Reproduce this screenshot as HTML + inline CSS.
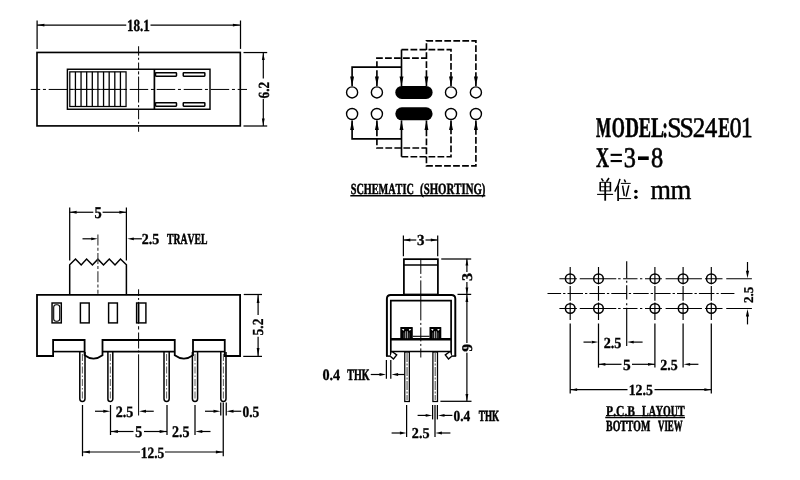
<!DOCTYPE html>
<html><head><meta charset="utf-8"><title>SS24E01 slide switch drawing</title>
<style>
html,body{margin:0;padding:0;background:#fff;}
body{width:800px;height:480px;overflow:hidden;font-family:"Liberation Serif",serif;}
svg{display:block;will-change:transform;}
text{fill:#000;font-family:"Liberation Serif",serif;font-kerning:none;text-rendering:geometricPrecision;white-space:pre;}
</style></head><body>
<svg width="800" height="480" viewBox="0 0 800 480">
<rect x="37.0" y="52.45" width="203.3" height="73.45" rx="0" fill="none" stroke="#000" stroke-width="1.65"/>
<rect x="67.4" y="69.25" width="142.6" height="40.0" rx="0" fill="none" stroke="#000" stroke-width="1.45"/>
<rect x="69.8" y="71.85" width="56.25" height="34.65" rx="0" fill="none" stroke="#000" stroke-width="1.25"/>
<line x1="75.425" y1="71.85" x2="75.425" y2="106.5" stroke="#000" stroke-width="1.3" stroke-linecap="butt"/>
<line x1="81.05" y1="71.85" x2="81.05" y2="106.5" stroke="#000" stroke-width="1.3" stroke-linecap="butt"/>
<line x1="86.675" y1="71.85" x2="86.675" y2="106.5" stroke="#000" stroke-width="1.3" stroke-linecap="butt"/>
<line x1="92.3" y1="71.85" x2="92.3" y2="106.5" stroke="#000" stroke-width="1.3" stroke-linecap="butt"/>
<line x1="97.925" y1="71.85" x2="97.925" y2="106.5" stroke="#000" stroke-width="1.3" stroke-linecap="butt"/>
<line x1="103.55" y1="71.85" x2="103.55" y2="106.5" stroke="#000" stroke-width="1.3" stroke-linecap="butt"/>
<line x1="109.175" y1="71.85" x2="109.175" y2="106.5" stroke="#000" stroke-width="1.3" stroke-linecap="butt"/>
<line x1="114.8" y1="71.85" x2="114.8" y2="106.5" stroke="#000" stroke-width="1.3" stroke-linecap="butt"/>
<line x1="120.425" y1="71.85" x2="120.425" y2="106.5" stroke="#000" stroke-width="1.3" stroke-linecap="butt"/>
<line x1="69.8" y1="89.4" x2="126.05" y2="89.4" stroke="#000" stroke-width="0.9" stroke-linecap="butt"/>
<line x1="154.4" y1="69.25" x2="154.4" y2="109.25" stroke="#000" stroke-width="1.7" stroke-linecap="butt"/>
<rect x="155.5" y="72.65" width="21.0" height="3.5" rx="0.6" fill="none" stroke="#000" stroke-width="1.5"/>
<rect x="155.5" y="102.65" width="21.0" height="3.5" rx="0.6" fill="none" stroke="#000" stroke-width="1.5"/>
<rect x="183.25" y="72.65" width="21.6" height="3.5" rx="0.6" fill="none" stroke="#000" stroke-width="1.5"/>
<rect x="183.25" y="102.65" width="21.6" height="3.5" rx="0.6" fill="none" stroke="#000" stroke-width="1.5"/>
<line x1="30.7" y1="89.45" x2="247" y2="89.45" stroke="#000" stroke-width="1.0" stroke-dasharray="18.5 2.75 3 2.75" stroke-dashoffset="9" stroke-linecap="butt"/>
<line x1="138.6" y1="46.25" x2="138.6" y2="131.75" stroke="#000" stroke-width="1.0" stroke-dasharray="9.4 2.1 2.1 2.7 6.7 2.1 3.1 2.1 26 2.5 2.1 2.7 9.4 2.5 2.1 2.7 5.2" stroke-linecap="butt"/>
<line x1="37.1" y1="20.5" x2="37.1" y2="48.9" stroke="#000" stroke-width="1.25" stroke-linecap="butt"/>
<line x1="240.5" y1="20.5" x2="240.5" y2="48.9" stroke="#000" stroke-width="1.25" stroke-linecap="butt"/>
<line x1="37.0" y1="25.1" x2="126.25" y2="25.1" stroke="#000" stroke-width="1.2" stroke-linecap="butt"/>
<line x1="150.5" y1="25.1" x2="240.3" y2="25.1" stroke="#000" stroke-width="1.2" stroke-linecap="butt"/>
<polygon points="37.4,25.1 44.4,23.700000000000003 44.4,26.5" fill="#000"/>
<polygon points="239.9,25.1 232.9,23.700000000000003 232.9,26.5" fill="#000"/>
<text transform="matrix(0.777 0 0 1 126.949 30.75)" font-size="16.917" font-weight="bold" stroke="#000" stroke-width="0.38" vector-effect="non-scaling-stroke">18.1</text>
<line x1="243.5" y1="52.55" x2="267.2" y2="52.55" stroke="#000" stroke-width="1.25" stroke-linecap="butt"/>
<line x1="243.5" y1="126.0" x2="267.2" y2="126.0" stroke="#000" stroke-width="1.25" stroke-linecap="butt"/>
<line x1="263.3" y1="52.5" x2="263.3" y2="78.5" stroke="#000" stroke-width="1.2" stroke-linecap="butt"/>
<line x1="263.3" y1="99" x2="263.3" y2="126" stroke="#000" stroke-width="1.2" stroke-linecap="butt"/>
<polygon points="263.3,52.9 261.90000000000003,59.9 264.7,59.9" fill="#000"/>
<polygon points="263.3,125.6 261.90000000000003,118.6 264.7,118.6" fill="#000"/>
<text transform="matrix(0 -0.863 1 0 268.8 98.401)" font-family="'Liberation Sans', sans-serif" font-size="15.484" font-weight="bold" stroke="#000" stroke-width="0.3" vector-effect="non-scaling-stroke">6.2</text>
<circle cx="352.1" cy="92.4" r="5.55" fill="none" stroke="#000" stroke-width="1.4"/>
<circle cx="352.1" cy="114" r="5.55" fill="none" stroke="#000" stroke-width="1.4"/>
<circle cx="376.9" cy="92.4" r="5.55" fill="none" stroke="#000" stroke-width="1.4"/>
<circle cx="376.9" cy="114" r="5.55" fill="none" stroke="#000" stroke-width="1.4"/>
<circle cx="451.0" cy="92.4" r="5.55" fill="none" stroke="#000" stroke-width="1.4"/>
<circle cx="451.0" cy="114" r="5.55" fill="none" stroke="#000" stroke-width="1.4"/>
<circle cx="475.9" cy="92.4" r="5.55" fill="none" stroke="#000" stroke-width="1.4"/>
<circle cx="475.9" cy="114" r="5.55" fill="none" stroke="#000" stroke-width="1.4"/>
<rect x="395.3" y="85.9" width="37.3" height="13.1" rx="6.55" fill="#000" stroke="#000" stroke-width="0"/>
<rect x="395.3" y="107.3" width="37.3" height="13.0" rx="6.5" fill="#000" stroke="#000" stroke-width="0"/>
<path d="M352.1,86 V67.15 H401.5" fill="none" stroke="#000" stroke-width="1.65" stroke-linejoin="miter"/>
<line x1="401.5" y1="49.6" x2="401.5" y2="86.6" stroke="#000" stroke-width="1.65" stroke-linecap="butt"/>
<path d="M376.9,86 V58.15 H426.45" fill="none" stroke="#000" stroke-width="1.65" stroke-dasharray="6.75 2.25" stroke-linejoin="miter"/>
<path d="M426.45,86 V40.9 H475.9 V86" fill="none" stroke="#000" stroke-width="1.65" stroke-dasharray="6.75 2.25" stroke-linejoin="miter"/>
<path d="M401.5,49.6 H451.0 V86" fill="none" stroke="#000" stroke-width="1.65" stroke-dasharray="6.75 2.25" stroke-linejoin="miter"/>
<polygon points="352.1,85.9 350.15000000000003,76.4 354.05,76.4" fill="#000"/>
<polygon points="376.9,85.9 374.95,76.4 378.84999999999997,76.4" fill="#000"/>
<polygon points="401.5,85.9 399.55,76.4 403.45,76.4" fill="#000"/>
<polygon points="426.45,85.9 424.5,76.4 428.4,76.4" fill="#000"/>
<polygon points="451.0,85.9 449.05,76.4 452.95,76.4" fill="#000"/>
<polygon points="475.9,85.9 473.95,76.4 477.84999999999997,76.4" fill="#000"/>
<path d="M352.1,120.5 V138.9 H401.5" fill="none" stroke="#000" stroke-width="1.65" stroke-linejoin="miter"/>
<line x1="401.5" y1="120.4" x2="401.5" y2="156.75" stroke="#000" stroke-width="1.65" stroke-linecap="butt"/>
<path d="M376.9,120.5 V148 H426.45" fill="none" stroke="#000" stroke-width="1.65" stroke-dasharray="6.75 2.25" stroke-linejoin="miter"/>
<path d="M426.45,120.5 V165.85 H475.9 V120.5" fill="none" stroke="#000" stroke-width="1.65" stroke-dasharray="6.75 2.25" stroke-linejoin="miter"/>
<path d="M401.5,156.75 H451.0 V120.5" fill="none" stroke="#000" stroke-width="1.65" stroke-dasharray="6.75 2.25" stroke-linejoin="miter"/>
<polygon points="352.1,120.6 350.15000000000003,130.1 354.05,130.1" fill="#000"/>
<polygon points="376.9,120.6 374.95,130.1 378.84999999999997,130.1" fill="#000"/>
<polygon points="401.5,120.6 399.55,130.1 403.45,130.1" fill="#000"/>
<polygon points="426.45,120.6 424.5,130.1 428.4,130.1" fill="#000"/>
<polygon points="451.0,120.6 449.05,130.1 452.95,130.1" fill="#000"/>
<polygon points="475.9,120.6 473.95,130.1 477.84999999999997,130.1" fill="#000"/>
<text transform="matrix(0.665 0 0 1 350.712 193.6)" font-size="15.396" font-weight="bold" stroke="#000" stroke-width="0.525" vector-effect="non-scaling-stroke">SCHEMATIC</text>
<text transform="matrix(0.696 0 0 1 420.114 193.6)" font-size="15.5" font-weight="bold" stroke="#000" stroke-width="0.485" vector-effect="non-scaling-stroke">(SHORTING)</text>
<line x1="350.3" y1="195.7" x2="485.3" y2="195.7" stroke="#000" stroke-width="1.5" stroke-linecap="butt"/>
<text transform="matrix(0.559 0 0 1 595.97 137.0)" font-size="28.6" font-weight="bold" stroke="#000" stroke-width="0.613" vector-effect="non-scaling-stroke">M</text>
<text transform="matrix(0.591 0 0 1 611.654 137.0)" font-size="28.6" font-weight="bold" stroke="#000" stroke-width="0.571" vector-effect="non-scaling-stroke">O</text>
<text transform="matrix(0.667 0 0 1 625.266 137.0)" font-size="28.6" font-weight="bold" stroke="#000" stroke-width="0.473" vector-effect="non-scaling-stroke">D</text>
<text transform="matrix(0.644 0 0 1 638.678 137.0)" font-size="28.6" font-weight="bold" stroke="#000" stroke-width="0.503" vector-effect="non-scaling-stroke">E</text>
<text transform="matrix(0.682 0 0 1 650.909 137.0)" font-size="28.6" font-weight="bold" stroke="#000" stroke-width="0.453" vector-effect="non-scaling-stroke">L</text>
<text transform="matrix(0.546 0 0 1 662.611 137.0)" font-size="28.6" font-weight="bold" stroke="#000" stroke-width="0.63" vector-effect="non-scaling-stroke">:</text>
<text transform="matrix(0.906 0 0 1 667.263 137.0)" font-size="28.4" font-weight="normal" stroke="#000" stroke-width="0.6" vector-effect="non-scaling-stroke">S</text>
<text transform="matrix(0.906 0 0 1 679.513 137.0)" font-size="28.4" font-weight="normal" stroke="#000" stroke-width="0.6" vector-effect="non-scaling-stroke">S</text>
<text transform="matrix(0.88 0 0 1 692.625 137.0)" font-size="28.4" font-weight="normal" stroke="#000" stroke-width="0.6" vector-effect="non-scaling-stroke">2</text>
<text transform="matrix(0.882 0 0 1 704.749 137.0)" font-size="28.4" font-weight="normal" stroke="#000" stroke-width="0.6" vector-effect="non-scaling-stroke">4</text>
<text transform="matrix(0.614 0 0 1 718.192 137.0)" font-size="28.6" font-weight="bold" stroke="#000" stroke-width="0.541" vector-effect="non-scaling-stroke">E</text>
<text transform="matrix(0.829 0 0 1 729.718 137.0)" font-size="28.4" font-weight="normal" stroke="#000" stroke-width="0.735" vector-effect="non-scaling-stroke">0</text>
<text transform="matrix(0.814 0 0 1 741.077 137.0)" font-size="28.4" font-weight="normal" stroke="#000" stroke-width="0.773" vector-effect="non-scaling-stroke">1</text>
<text transform="matrix(0.631 0 0 1 595.934 167.0)" font-size="28.6" font-weight="bold" stroke="#000" stroke-width="0.52" vector-effect="non-scaling-stroke">X</text>
<text transform="matrix(0.854 0 0 1 623.848 167.0)" font-size="28.4" font-weight="normal" stroke="#000" stroke-width="0.67" vector-effect="non-scaling-stroke">3</text>
<text transform="matrix(0.857 0 0 1 650.987 167.0)" font-size="28.4" font-weight="normal" stroke="#000" stroke-width="0.66" vector-effect="non-scaling-stroke">8</text>
<rect x="610.6" y="153.8" width="11.3" height="2.1" fill="#000"/><rect x="610.6" y="160" width="11.3" height="2.1" fill="#000"/>
<rect x="638" y="156.4" width="10.75" height="3.6" fill="#000"/>
<text transform="matrix(0.939 0 0 1 650.375 198.75)" font-size="27.979" font-weight="normal" stroke="#000" stroke-width="0.45" vector-effect="non-scaling-stroke">m</text>
<text transform="matrix(0.958 0 0 1 670.564 198.75)" font-size="27.979" font-weight="normal" stroke="#000" stroke-width="0.45" vector-effect="non-scaling-stroke">m</text>
<g stroke="#000" fill="none" stroke-linecap="butt">
<path stroke-width="1.6" d="M601.4,178.4 L603.3,181.4 M609,178 L606.5,181.7 M600.2,181.9 V191.3 M610.4,181.9 V191.3"/>
<path stroke-width="0.95" d="M600.2,182.3 H610.4 M600.2,186.75 H610.4 M600.2,190.9 H610.4"/>
<path stroke-width="1.1" d="M597.1,194.4 H613.1"/>
<path stroke-width="1.8" d="M605.2,182 V200.7"/>
<path stroke-width="1.5" d="M620,178.8 Q618.6,185 614.8,191.7 M624.3,179.5 L625.6,182.4 M622.6,185.6 L624.3,195.9 M628.8,185.3 L626.1,196.6"/>
<path stroke-width="1.7" d="M618.1,185.4 V201.1"/>
<path stroke-width="1.0" d="M620.9,183.4 H630.7 M619,198.6 H631.1"/>
</g>
<circle cx="635.9" cy="191.6" r="1.75" fill="#000"/><circle cx="635.9" cy="197.3" r="1.75" fill="#000"/>
<path d="M69.7,294.5 V264.7 L75.5,259 L81.2,265 L86.6,259 L92.4,265 L97.9,259.2 L103.5,265 L109.3,259 L115,265 L120.5,259 L126.4,264.7 V294.5" fill="none" stroke="#000" stroke-width="1.5" stroke-linejoin="miter"/>
<line x1="69.7" y1="207.5" x2="69.7" y2="260.5" stroke="#000" stroke-width="1.25" stroke-linecap="butt"/>
<line x1="126.4" y1="207.5" x2="126.4" y2="260.5" stroke="#000" stroke-width="1.25" stroke-linecap="butt"/>
<path d="M37,294.8 H240.1 V356 H224.75 V340 H193 V355.3 Q183.9,362 174.75,355.3 V340 H102.5 V355.3 Q93.5,362 84.6,355.3 V340 H53.1 V356 H37 Z" fill="none" stroke="#000" stroke-width="1.8" stroke-linejoin="miter"/>
<line x1="53.1" y1="351.6" x2="84.6" y2="351.6" stroke="#000" stroke-width="1.6" stroke-linecap="butt"/>
<line x1="102.5" y1="351.6" x2="174.75" y2="351.6" stroke="#000" stroke-width="1.6" stroke-linecap="butt"/>
<line x1="193" y1="351.6" x2="224.75" y2="351.6" stroke="#000" stroke-width="1.6" stroke-linecap="butt"/>
<rect x="52.05" y="303" width="9.25" height="19.9" rx="0" fill="none" stroke="#000" stroke-width="1.45"/>
<rect x="80.4" y="303" width="8.8" height="19.9" rx="0" fill="none" stroke="#000" stroke-width="1.45"/>
<rect x="108.6" y="303" width="8.8" height="19.9" rx="0" fill="none" stroke="#000" stroke-width="1.45"/>
<rect x="136.6" y="303" width="9.3" height="19.9" rx="0" fill="none" stroke="#000" stroke-width="1.45"/>
<rect x="53.7" y="304.8" width="6.0" height="16.4" rx="2.4" fill="none" stroke="#000" stroke-width="1.1"/>
<line x1="138.6" y1="303.5" x2="138.6" y2="322.5" stroke="#000" stroke-width="1.6" stroke-linecap="butt"/>
<path d="M79.8,352 V398.8 A2.6,2.6 0 0 0 85.0,398.8 V352" fill="none" stroke="#000" stroke-width="1.5" stroke-linejoin="miter"/>
<line x1="82.4" y1="354" x2="82.4" y2="399" stroke="#333" stroke-width="0.8" stroke-dasharray="7 2 1.5 2" stroke-linecap="butt"/>
<path d="M107.9,352 V398.95 A2.45,2.45 0 0 0 112.8,398.95 V352" fill="none" stroke="#000" stroke-width="1.5" stroke-linejoin="miter"/>
<line x1="110.35" y1="354" x2="110.35" y2="399" stroke="#333" stroke-width="0.8" stroke-dasharray="7 2 1.5 2" stroke-linecap="butt"/>
<path d="M164.0,352 V398.8 A2.6,2.6 0 0 0 169.2,398.8 V352" fill="none" stroke="#000" stroke-width="1.5" stroke-linejoin="miter"/>
<line x1="166.6" y1="354" x2="166.6" y2="399" stroke="#333" stroke-width="0.8" stroke-dasharray="7 2 1.5 2" stroke-linecap="butt"/>
<path d="M192.4,352 V398.8 A2.6,2.6 0 0 0 197.6,398.8 V352" fill="none" stroke="#000" stroke-width="1.5" stroke-linejoin="miter"/>
<line x1="195.0" y1="354" x2="195.0" y2="399" stroke="#333" stroke-width="0.8" stroke-dasharray="7 2 1.5 2" stroke-linecap="butt"/>
<path d="M220.8,352 V398.8 A2.6,2.6 0 0 0 226.0,398.8 V352" fill="none" stroke="#000" stroke-width="1.5" stroke-linejoin="miter"/>
<line x1="223.4" y1="354" x2="223.4" y2="399" stroke="#333" stroke-width="0.8" stroke-dasharray="7 2 1.5 2" stroke-linecap="butt"/>
<line x1="138.6" y1="289.3" x2="138.6" y2="415.5" stroke="#000" stroke-width="1.0" stroke-dasharray="6.7 2 1.9 2 21.8 2.5 3.3 3 16 2 1.8 2 61.2" stroke-linecap="butt"/>
<line x1="97.9" y1="234.5" x2="97.9" y2="293.75" stroke="#444" stroke-width="1.2" stroke-dasharray="11 2.2 3 2.2" stroke-linecap="butt"/>
<line x1="69.5" y1="212.25" x2="93.3" y2="212.25" stroke="#000" stroke-width="1.2" stroke-linecap="butt"/>
<line x1="102.6" y1="212.25" x2="126.25" y2="212.25" stroke="#000" stroke-width="1.2" stroke-linecap="butt"/>
<polygon points="70.1,212.25 76.6,210.85 76.6,213.65" fill="#000"/>
<polygon points="125.9,212.25 119.4,210.85 119.4,213.65" fill="#000"/>
<text transform="matrix(0.876 0 0 1 94.422 217.6)" font-size="16.489" font-weight="bold" stroke="#000" stroke-width="0.35" vector-effect="non-scaling-stroke">5</text>
<line x1="82.5" y1="238.8" x2="92" y2="238.8" stroke="#000" stroke-width="1.2" stroke-linecap="butt"/>
<polygon points="97.75,238.8 91.25,237.4 91.25,240.20000000000002" fill="#000"/>
<polygon points="127.3,238.8 133.8,237.4 133.8,240.20000000000002" fill="#000"/>
<line x1="133" y1="238.8" x2="141.9" y2="238.8" stroke="#000" stroke-width="1.2" stroke-linecap="butt"/>
<text transform="matrix(0.917 0 0 1 141.806 243.9)" font-size="15.245" font-weight="bold" stroke="#000" stroke-width="0.35" vector-effect="non-scaling-stroke">2.5</text>
<text transform="matrix(0.634 0 0 1 167.054 243.9)" font-size="15.303" font-weight="bold" stroke="#000" stroke-width="0.565" vector-effect="non-scaling-stroke">TRAVEL</text>
<line x1="243.75" y1="294.5" x2="262" y2="294.5" stroke="#000" stroke-width="1.25" stroke-linecap="butt"/>
<line x1="243.25" y1="356.4" x2="262" y2="356.4" stroke="#000" stroke-width="1.25" stroke-linecap="butt"/>
<line x1="258.1" y1="294.5" x2="258.1" y2="315" stroke="#000" stroke-width="1.2" stroke-linecap="butt"/>
<line x1="258.1" y1="336.8" x2="258.1" y2="356.4" stroke="#000" stroke-width="1.2" stroke-linecap="butt"/>
<polygon points="258.1,294.9 256.70000000000005,302.9 259.5,302.9" fill="#000"/>
<polygon points="258.1,356 256.70000000000005,348 259.5,348" fill="#000"/>
<text transform="matrix(0 -0.891 1 0 263.3 335.61)" font-family="'Liberation Sans', sans-serif" font-size="15.341" font-weight="bold" stroke="#000" stroke-width="0.3" vector-effect="non-scaling-stroke">5.2</text>
<line x1="82.5" y1="405" x2="82.5" y2="456.25" stroke="#000" stroke-width="1.25" stroke-linecap="butt"/>
<line x1="110.5" y1="405" x2="110.5" y2="435" stroke="#000" stroke-width="1.25" stroke-linecap="butt"/>
<line x1="167" y1="405" x2="167" y2="435" stroke="#000" stroke-width="1.25" stroke-linecap="butt"/>
<line x1="195" y1="405" x2="195" y2="435" stroke="#000" stroke-width="1.25" stroke-linecap="butt"/>
<line x1="223.25" y1="402.5" x2="223.25" y2="456.25" stroke="#000" stroke-width="1.25" stroke-linecap="butt"/>
<line x1="220.75" y1="402.5" x2="220.75" y2="415.5" stroke="#000" stroke-width="1.25" stroke-linecap="butt"/>
<line x1="226.25" y1="402.5" x2="226.25" y2="415.5" stroke="#000" stroke-width="1.25" stroke-linecap="butt"/>
<line x1="95" y1="411.25" x2="104" y2="411.25" stroke="#000" stroke-width="1.2" stroke-linecap="butt"/>
<polygon points="110.3,411.25 103.3,409.85 103.3,412.65" fill="#000"/>
<polygon points="139,411.25 146.0,409.85 146.0,412.65" fill="#000"/>
<line x1="145" y1="411.25" x2="153.75" y2="411.25" stroke="#000" stroke-width="1.2" stroke-linecap="butt"/>
<text transform="matrix(0.89 0 0 1 115.701 416.5)" font-size="15.849" font-weight="bold" stroke="#000" stroke-width="0.35" vector-effect="non-scaling-stroke">2.5</text>
<line x1="110.5" y1="431.5" x2="133.5" y2="431.5" stroke="#000" stroke-width="1.2" stroke-linecap="butt"/>
<line x1="144" y1="431.5" x2="167" y2="431.5" stroke="#000" stroke-width="1.2" stroke-linecap="butt"/>
<polygon points="110.9,431.5 117.9,430.1 117.9,432.9" fill="#000"/>
<polygon points="166.6,431.5 159.6,430.1 159.6,432.9" fill="#000"/>
<text transform="matrix(0.851 0 0 1 135.241 437.0)" font-size="16.412" font-weight="bold" stroke="#000" stroke-width="0.35" vector-effect="non-scaling-stroke">5</text>
<text transform="matrix(0.864 0 0 1 172.004 437.0)" font-size="16.226" font-weight="bold" stroke="#000" stroke-width="0.35" vector-effect="non-scaling-stroke">2.5</text>
<polygon points="195.3,431.5 202.3,430.1 202.3,432.9" fill="#000"/>
<line x1="201" y1="431.5" x2="210.5" y2="431.5" stroke="#000" stroke-width="1.2" stroke-linecap="butt"/>
<line x1="205" y1="411.25" x2="214" y2="411.25" stroke="#000" stroke-width="1.2" stroke-linecap="butt"/>
<polygon points="220.5,411.25 213.5,409.85 213.5,412.65" fill="#000"/>
<polygon points="226.5,411.25 233.5,409.85 233.5,412.65" fill="#000"/>
<line x1="232" y1="411.25" x2="241.25" y2="411.25" stroke="#000" stroke-width="1.2" stroke-linecap="butt"/>
<text transform="matrix(0.852 0 0 1 242.496 416.5)" font-size="15.789" font-weight="bold" stroke="#000" stroke-width="0.35" vector-effect="non-scaling-stroke">0.5</text>
<line x1="82.5" y1="452" x2="140" y2="452" stroke="#000" stroke-width="1.2" stroke-linecap="butt"/>
<line x1="165" y1="452" x2="223.25" y2="452" stroke="#000" stroke-width="1.2" stroke-linecap="butt"/>
<polygon points="82.9,452 89.9,450.6 89.9,453.4" fill="#000"/>
<polygon points="222.85,452 215.85,450.6 215.85,453.4" fill="#000"/>
<text transform="matrix(0.846 0 0 1 140.827 457.5)" font-size="15.849" font-weight="bold" stroke="#000" stroke-width="0.35" vector-effect="non-scaling-stroke">12.5</text>
<rect x="403.9" y="259.15" width="34.0" height="35.35" rx="0" fill="none" stroke="#000" stroke-width="1.75"/>
<line x1="403.9" y1="264.9" x2="437.9" y2="264.9" stroke="#000" stroke-width="1.5" stroke-linecap="butt"/>
<path d="M386.9,356 V298.8 Q386.9,295 390.7,295 H451.5 Q455.3,295 455.3,298.8 V356" fill="none" stroke="#000" stroke-width="1.95" stroke-linejoin="miter"/>
<path d="M390.8,356 V300.7 H451.1 V356" fill="none" stroke="#000" stroke-width="1.7" stroke-linejoin="miter"/>
<line x1="386" y1="356.1" x2="391.6" y2="356.1" stroke="#000" stroke-width="1.5" stroke-linecap="butt"/>
<line x1="450.3" y1="356.1" x2="456.2" y2="356.1" stroke="#000" stroke-width="1.5" stroke-linecap="butt"/>
<path d="M392.4,351.8 L396.7,355 L393.5,359 L390.3,356.2" fill="#fff" stroke="#000" stroke-width="1.4" stroke-linejoin="miter"/>
<path d="M449.6,351.8 L445.3,355 L448.5,359 L451.7,356.2" fill="#fff" stroke="#000" stroke-width="1.4" stroke-linejoin="miter"/>
<line x1="390.8" y1="339.3" x2="451.1" y2="339.3" stroke="#000" stroke-width="2.5" stroke-linecap="butt"/>
<line x1="390.8" y1="351.5" x2="451.1" y2="351.5" stroke="#000" stroke-width="1.5" stroke-linecap="butt"/>
<rect x="400.3" y="327" width="12.5" height="11.6" rx="0.6" fill="#000" stroke="#000" stroke-width="0"/>
<polygon points="401.7,328.9 404.3,328.9 403.5,330.9" fill="#fff"/>
<polygon points="411.4,328.9 408.8,328.9 409.6,330.9" fill="#fff"/>
<line x1="405.65" y1="331.2" x2="405.65" y2="338.2" stroke="#fff" stroke-width="0.65" stroke-linecap="butt"/>
<line x1="407.45" y1="331.2" x2="407.45" y2="338.2" stroke="#fff" stroke-width="0.65" stroke-linecap="butt"/>
<line x1="403.95" y1="332.5" x2="403.95" y2="338.2" stroke="#bbb" stroke-width="0.4" stroke-linecap="butt"/>
<line x1="409.15" y1="332.5" x2="409.15" y2="338.2" stroke="#bbb" stroke-width="0.4" stroke-linecap="butt"/>
<rect x="429.5" y="327" width="11.8" height="11.6" rx="0.6" fill="#000" stroke="#000" stroke-width="0"/>
<polygon points="430.9,328.9 433.5,328.9 432.7,330.9" fill="#fff"/>
<polygon points="439.9,328.9 437.3,328.9 438.1,330.9" fill="#fff"/>
<line x1="434.5" y1="331.2" x2="434.5" y2="338.2" stroke="#fff" stroke-width="0.65" stroke-linecap="butt"/>
<line x1="436.3" y1="331.2" x2="436.3" y2="338.2" stroke="#fff" stroke-width="0.65" stroke-linecap="butt"/>
<line x1="432.8" y1="332.5" x2="432.8" y2="338.2" stroke="#bbb" stroke-width="0.4" stroke-linecap="butt"/>
<line x1="438.0" y1="332.5" x2="438.0" y2="338.2" stroke="#bbb" stroke-width="0.4" stroke-linecap="butt"/>
<line x1="412.8" y1="336.3" x2="429.5" y2="336.3" stroke="#000" stroke-width="1.1" stroke-linecap="butt"/>
<rect x="404.75" y="352" width="4.6" height="49.5" rx="0" fill="none" stroke="#000" stroke-width="1.25"/>
<line x1="407.05" y1="353" x2="407.05" y2="400" stroke="#222" stroke-width="0.85" stroke-dasharray="9 1.5 2 1.5" stroke-linecap="butt"/>
<rect x="432.9" y="352" width="4.6" height="49.5" rx="0" fill="none" stroke="#000" stroke-width="1.25"/>
<line x1="435.2" y1="353" x2="435.2" y2="400" stroke="#222" stroke-width="0.85" stroke-dasharray="9 1.5 2 1.5" stroke-linecap="butt"/>
<line x1="420.8" y1="258.9" x2="420.8" y2="357.5" stroke="#000" stroke-width="1.0" stroke-dasharray="15 2.5 1.5 2.5 40 2.5 2 2.5 14 2.5 2 2.5 30" stroke-linecap="butt"/>
<line x1="403.4" y1="235.5" x2="403.4" y2="256.25" stroke="#000" stroke-width="1.25" stroke-linecap="butt"/>
<line x1="437.7" y1="235.5" x2="437.7" y2="256.25" stroke="#000" stroke-width="1.25" stroke-linecap="butt"/>
<line x1="403.4" y1="240" x2="416.3" y2="240" stroke="#000" stroke-width="1.2" stroke-linecap="butt"/>
<line x1="425.5" y1="240" x2="437.7" y2="240" stroke="#000" stroke-width="1.2" stroke-linecap="butt"/>
<polygon points="403.8,240 410.3,238.6 410.3,241.4" fill="#000"/>
<polygon points="437.3,240 430.8,238.6 430.8,241.4" fill="#000"/>
<text transform="matrix(0.972 0 0 1 416.939 245.2)" font-size="15.396" font-weight="bold" stroke="#000" stroke-width="0.35" vector-effect="non-scaling-stroke">3</text>
<line x1="441.25" y1="259" x2="471.2" y2="259" stroke="#000" stroke-width="1.25" stroke-linecap="butt"/>
<line x1="457.5" y1="294.4" x2="471.2" y2="294.4" stroke="#000" stroke-width="1.25" stroke-linecap="butt"/>
<line x1="440.4" y1="401.3" x2="471.5" y2="401.3" stroke="#000" stroke-width="1.25" stroke-linecap="butt"/>
<line x1="466.9" y1="258.75" x2="466.9" y2="272" stroke="#000" stroke-width="1.2" stroke-linecap="butt"/>
<line x1="466.9" y1="282" x2="466.9" y2="294.5" stroke="#000" stroke-width="1.2" stroke-linecap="butt"/>
<polygon points="466.9,259.1 465.5,265.6 468.29999999999995,265.6" fill="#000"/>
<polygon points="466.9,294.1 465.5,287.6 468.29999999999995,287.6" fill="#000"/>
<text transform="matrix(0 -1.091 1 0 471.7 281.105)" font-size="14.792" font-weight="bold" stroke="#000" stroke-width="0.35" vector-effect="non-scaling-stroke">3</text>
<line x1="466.9" y1="294.5" x2="466.9" y2="343" stroke="#000" stroke-width="1.2" stroke-linecap="butt"/>
<line x1="466.9" y1="352.8" x2="466.9" y2="401.3" stroke="#000" stroke-width="1.2" stroke-linecap="butt"/>
<polygon points="466.9,294.9 465.5,301.9 468.29999999999995,301.9" fill="#000"/>
<polygon points="466.9,400.9 465.5,393.9 468.29999999999995,393.9" fill="#000"/>
<text transform="matrix(0 -1.066 1 0 472.0 351.734)" font-size="14.792" font-weight="bold" stroke="#000" stroke-width="0.35" vector-effect="non-scaling-stroke">9</text>
<text transform="matrix(0.901 0 0 1 322.467 380.0)" font-size="15.789" font-weight="bold" stroke="#000" stroke-width="0.35" vector-effect="non-scaling-stroke">0.4</text>
<text transform="matrix(0.624 0 0 1 347.35 380.0)" font-size="16.031" font-weight="bold" stroke="#000" stroke-width="0.579" vector-effect="non-scaling-stroke">THK</text>
<line x1="370.75" y1="374.5" x2="380" y2="374.5" stroke="#000" stroke-width="1.2" stroke-linecap="butt"/>
<polygon points="386,374.5 379.5,373.1 379.5,375.9" fill="#000"/>
<line x1="386.4" y1="360" x2="386.4" y2="378.75" stroke="#000" stroke-width="1.25" stroke-linecap="butt"/>
<line x1="390.8" y1="360" x2="390.8" y2="378.75" stroke="#000" stroke-width="1.25" stroke-linecap="butt"/>
<polygon points="391.6,374.5 398.1,373.1 398.1,375.9" fill="#000"/>
<line x1="397" y1="374.5" x2="404.5" y2="374.5" stroke="#000" stroke-width="1.2" stroke-linecap="butt"/>
<line x1="432.6" y1="405" x2="432.6" y2="419.4" stroke="#000" stroke-width="1.25" stroke-linecap="butt"/>
<line x1="437.4" y1="405" x2="437.4" y2="419.4" stroke="#000" stroke-width="1.25" stroke-linecap="butt"/>
<line x1="435" y1="405" x2="435" y2="437" stroke="#000" stroke-width="1.25" stroke-linecap="butt"/>
<line x1="417.6" y1="415.4" x2="426" y2="415.4" stroke="#000" stroke-width="1.2" stroke-linecap="butt"/>
<polygon points="432.2,415.4 425.7,414.0 425.7,416.79999999999995" fill="#000"/>
<polygon points="438,415.4 444.5,414.0 444.5,416.79999999999995" fill="#000"/>
<line x1="444" y1="415.4" x2="452.4" y2="415.4" stroke="#000" stroke-width="1.2" stroke-linecap="butt"/>
<text transform="matrix(0.873 0 0 1 453.498 420.6)" font-size="15.338" font-weight="bold" stroke="#000" stroke-width="0.35" vector-effect="non-scaling-stroke">0.4</text>
<text transform="matrix(0.584 0 0 1 478.864 420.6)" font-size="15.573" font-weight="bold" stroke="#000" stroke-width="0.631" vector-effect="non-scaling-stroke">THK</text>
<line x1="406.6" y1="405" x2="406.6" y2="437" stroke="#000" stroke-width="1.25" stroke-linecap="butt"/>
<line x1="391.6" y1="433" x2="400" y2="433" stroke="#000" stroke-width="1.2" stroke-linecap="butt"/>
<polygon points="406.4,433 399.9,431.6 399.9,434.4" fill="#000"/>
<polygon points="435.4,433 441.9,431.6 441.9,434.4" fill="#000"/>
<line x1="441" y1="433" x2="450.4" y2="433" stroke="#000" stroke-width="1.2" stroke-linecap="butt"/>
<text transform="matrix(0.94 0 0 1 411.797 438.0)" font-size="15.094" font-weight="bold" stroke="#000" stroke-width="0.35" vector-effect="non-scaling-stroke">2.5</text>
<circle cx="570.2" cy="278.7" r="4.8" fill="none" stroke="#000" stroke-width="1.5"/>
<circle cx="570.2" cy="308.5" r="4.8" fill="none" stroke="#000" stroke-width="1.5"/>
<line x1="570.2" y1="267" x2="570.2" y2="320.1" stroke="#000" stroke-width="1.15" stroke-dasharray="17.25 1.75 14.75 1.85 17.5" stroke-linecap="butt"/>
<circle cx="598.5" cy="278.7" r="4.8" fill="none" stroke="#000" stroke-width="1.5"/>
<circle cx="598.5" cy="308.5" r="4.8" fill="none" stroke="#000" stroke-width="1.5"/>
<line x1="598.5" y1="267" x2="598.5" y2="320.1" stroke="#000" stroke-width="1.15" stroke-dasharray="17.25 1.75 14.75 1.85 17.5" stroke-linecap="butt"/>
<circle cx="654.9" cy="278.7" r="4.8" fill="none" stroke="#000" stroke-width="1.5"/>
<circle cx="654.9" cy="308.5" r="4.8" fill="none" stroke="#000" stroke-width="1.5"/>
<line x1="654.9" y1="267" x2="654.9" y2="320.1" stroke="#000" stroke-width="1.15" stroke-dasharray="17.25 1.75 14.75 1.85 17.5" stroke-linecap="butt"/>
<circle cx="683.1" cy="278.7" r="4.8" fill="none" stroke="#000" stroke-width="1.5"/>
<circle cx="683.1" cy="308.5" r="4.8" fill="none" stroke="#000" stroke-width="1.5"/>
<line x1="683.1" y1="267" x2="683.1" y2="320.1" stroke="#000" stroke-width="1.15" stroke-dasharray="17.25 1.75 14.75 1.85 17.5" stroke-linecap="butt"/>
<circle cx="711.3" cy="278.7" r="4.8" fill="none" stroke="#000" stroke-width="1.5"/>
<circle cx="711.3" cy="308.5" r="4.8" fill="none" stroke="#000" stroke-width="1.5"/>
<line x1="711.3" y1="267" x2="711.3" y2="320.1" stroke="#000" stroke-width="1.15" stroke-dasharray="17.25 1.75 14.75 1.85 17.5" stroke-linecap="butt"/>
<line x1="559.4" y1="278.7" x2="751.9" y2="278.7" stroke="#000" stroke-width="1.15" stroke-dasharray="17.5 2.85 36.5 1.85 2.5 2.5 14.4 2.5 2.3 2.7 16.9 3.7 36.3 3.1 17.5 3.75 25.65" stroke-linecap="butt"/>
<line x1="559.4" y1="308.5" x2="751.9" y2="308.5" stroke="#000" stroke-width="1.15" stroke-dasharray="17.5 2.85 36.5 1.85 2.5 2.5 14.4 2.5 2.3 2.7 16.9 3.7 36.3 3.1 17.5 3.75 25.65" stroke-linecap="butt"/>
<line x1="547.5" y1="293.45" x2="734.4" y2="293.45" stroke="#000" stroke-width="1.15" stroke-dasharray="15.5 2 2.3 2.1" stroke-dashoffset="1.9" stroke-linecap="butt"/>
<line x1="626.7" y1="261.3" x2="626.7" y2="346" stroke="#000" stroke-width="1.15" stroke-dasharray="17 2.5 1.9 2.5 14.4 3.75 1.9 2.5 38.4" stroke-linecap="butt"/>
<line x1="570.2" y1="323.5" x2="570.2" y2="393.5" stroke="#000" stroke-width="1.25" stroke-linecap="butt"/>
<line x1="711.3" y1="323.5" x2="711.3" y2="393.5" stroke="#000" stroke-width="1.25" stroke-linecap="butt"/>
<line x1="598.5" y1="323.5" x2="598.5" y2="367.6" stroke="#000" stroke-width="1.25" stroke-linecap="butt"/>
<line x1="654.9" y1="323.5" x2="654.9" y2="367.6" stroke="#000" stroke-width="1.25" stroke-linecap="butt"/>
<line x1="683.1" y1="323.5" x2="683.1" y2="367.6" stroke="#000" stroke-width="1.25" stroke-linecap="butt"/>
<line x1="747.5" y1="262" x2="747.5" y2="272" stroke="#000" stroke-width="1.2" stroke-linecap="butt"/>
<polygon points="747.5,278.2 745.9,270.7 749.1,270.7" fill="#000"/>
<polygon points="747.5,309 745.9,316.5 749.1,316.5" fill="#000"/>
<line x1="747.5" y1="315" x2="747.5" y2="324.4" stroke="#000" stroke-width="1.2" stroke-linecap="butt"/>
<text transform="matrix(0 -0.98 1 0 752.6 303.062)" font-family="'Liberation Sans', sans-serif" font-size="13.477" font-weight="bold" stroke="#000" stroke-width="0.3" vector-effect="non-scaling-stroke">2.5</text>
<line x1="583.5" y1="342.1" x2="591.5" y2="342.1" stroke="#000" stroke-width="1.2" stroke-linecap="butt"/>
<polygon points="598.2,342.1 591.7,340.70000000000005 591.7,343.5" fill="#000"/>
<polygon points="627.2,342.1 633.7,340.70000000000005 633.7,343.5" fill="#000"/>
<line x1="633" y1="342.1" x2="642.6" y2="342.1" stroke="#000" stroke-width="1.2" stroke-linecap="butt"/>
<text transform="matrix(0.922 0 0 1 603.697 347.6)" font-size="15.396" font-weight="bold" stroke="#000" stroke-width="0.35" vector-effect="non-scaling-stroke">2.5</text>
<line x1="598.5" y1="364.3" x2="621.5" y2="364.3" stroke="#000" stroke-width="1.2" stroke-linecap="butt"/>
<line x1="632" y1="364.3" x2="654.9" y2="364.3" stroke="#000" stroke-width="1.2" stroke-linecap="butt"/>
<polygon points="598.9,364.3 605.4,362.90000000000003 605.4,365.7" fill="#000"/>
<polygon points="654.5,364.3 648.0,362.90000000000003 648.0,365.7" fill="#000"/>
<text transform="matrix(0.988 0 0 1 622.985 369.6)" font-size="15.573" font-weight="bold" stroke="#000" stroke-width="0.35" vector-effect="non-scaling-stroke">5</text>
<text transform="matrix(0.905 0 0 1 660.308 369.6)" font-size="15.396" font-weight="bold" stroke="#000" stroke-width="0.35" vector-effect="non-scaling-stroke">2.5</text>
<polygon points="683.6,364.3 690.1,362.90000000000003 690.1,365.7" fill="#000"/>
<line x1="690" y1="364.3" x2="698.4" y2="364.3" stroke="#000" stroke-width="1.2" stroke-linecap="butt"/>
<line x1="570.2" y1="389.7" x2="627.5" y2="389.7" stroke="#000" stroke-width="1.2" stroke-linecap="butt"/>
<line x1="654.5" y1="389.7" x2="711.3" y2="389.7" stroke="#000" stroke-width="1.2" stroke-linecap="butt"/>
<polygon points="570.6,389.7 577.1,388.3 577.1,391.09999999999997" fill="#000"/>
<polygon points="710.9,389.7 704.4,388.3 704.4,391.09999999999997" fill="#000"/>
<text transform="matrix(0.895 0 0 1 628.697 395.0)" font-size="15.396" font-weight="bold" stroke="#000" stroke-width="0.35" vector-effect="non-scaling-stroke">12.5</text>
<text transform="matrix(0.77 0 0 1 606.047 415.6)" font-size="15.094" font-weight="bold" stroke="#000" stroke-width="0.389" vector-effect="non-scaling-stroke">P.C.B</text>
<text transform="matrix(0.658 0 0 1 642.076 415.6)" font-size="15.094" font-weight="bold" stroke="#000" stroke-width="0.535" vector-effect="non-scaling-stroke">LAYOUT</text>
<line x1="606" y1="415.5" x2="684.6" y2="415.5" stroke="#000" stroke-width="0.9" stroke-linecap="butt"/>
<line x1="605.25" y1="417.6" x2="685" y2="417.6" stroke="#000" stroke-width="1.5" stroke-linecap="butt"/>
<text transform="matrix(0.635 0 0 1 606.078 431.25)" font-size="15.472" font-weight="bold" stroke="#000" stroke-width="0.565" vector-effect="non-scaling-stroke">BOTTOM</text>
<text transform="matrix(0.566 0 0 1 658.011 431.25)" font-size="15.649" font-weight="bold" stroke="#000" stroke-width="0.654" vector-effect="non-scaling-stroke">VIEW</text>
</svg>
</body></html>
